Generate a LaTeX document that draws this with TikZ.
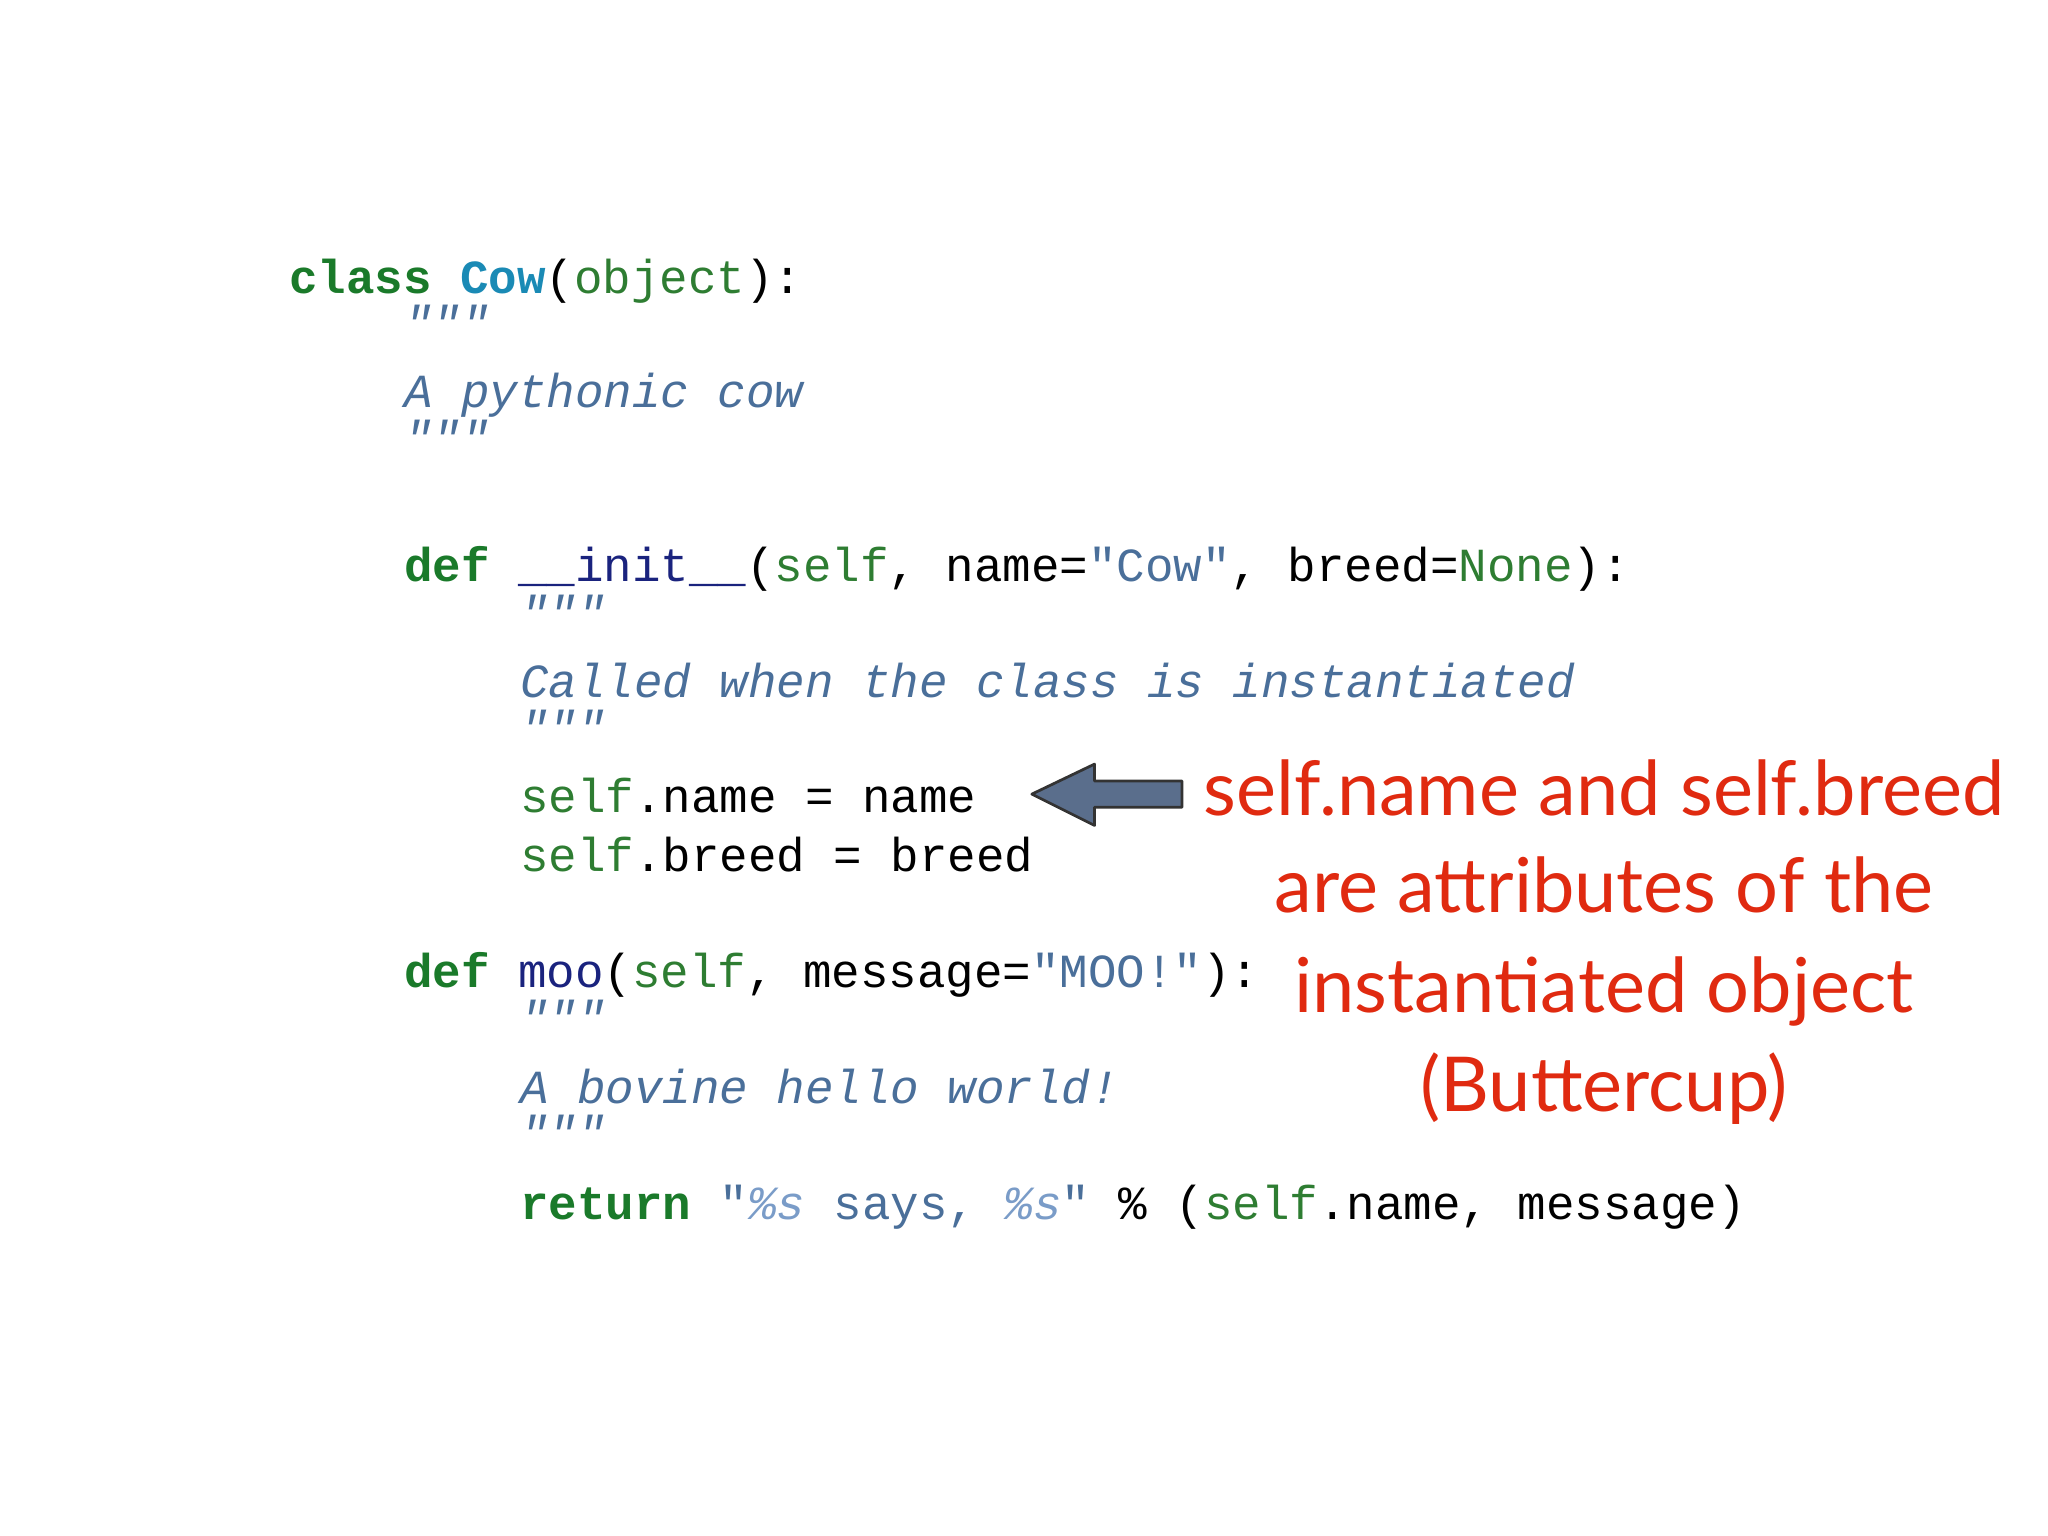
\documentclass[tikz,border=0pt]{standalone}
\usepackage{fontspec}
\setmonofont{Liberation Mono}
\newfontfamily\redfont{Lato}
\definecolor{kw}{HTML}{1A7A2A}
\definecolor{cls}{HTML}{1A8AB5}
\definecolor{gr}{HTML}{2E7D32}
\definecolor{doc}{HTML}{4A6F9A}
\definecolor{fn}{HTML}{1A237E}
\definecolor{fmt}{HTML}{7A9CC8}
\definecolor{redt}{HTML}{E02A10}
\definecolor{arr}{HTML}{5A6E8C}
\tikzset{code/.style={anchor=base west,inner sep=0pt,font=\ttfamily\fontsize{20.7}{24}\selectfont},
 red/.style={anchor=base,inner sep=0pt,text=redt,font=\redfont\fontsize{33}{40}\selectfont}}
\newcommand{\K}[1]{\textbf{\textcolor{kw}{#1}}}
\newcommand{\G}[1]{\textcolor{gr}{#1}}
\newcommand{\D}[1]{\textit{\textcolor{doc}{#1}}}
\begin{document}
\begin{tikzpicture}[x=0.02cm,y=-0.02cm]
\fill[white] (0,0) rectangle (1568,1176);
\node[code] (l1) at (221,225) {\K{class} \textbf{\textcolor{cls}{Cow}}(\G{object}):};
\node[code] (l2) at (309,260) {\D{"""}};
\node[code] (l3) at (309,312) {\D{A pythonic cow}};
\node[code] (l4) at (309,348) {\D{"""}};
\node[code] (l5) at (309,445) {\K{def} \textcolor{fn}{\_\_init\_\_}(\G{self}, name=\textcolor{doc}{"Cow"}, breed=\G{None}):};
\node[code] (l6) at (398,482) {\D{"""}};
\node[code] (l7) at (398,534) {\D{Called when the class is instantiated}};
\node[code] (l8) at (398,570) {\D{"""}};
\node[code] (l9) at (398,622) {\G{self}.name = name};
\node[code] (l10) at (398,667) {\G{self}.breed = breed};
\node[code] (l11) at (309,756) {\K{def} \textcolor{fn}{moo}(\G{self}, message=\textcolor{doc}{"MOO!"}):};
\node[code] (l12) at (398,792) {\D{"""}};
\node[code] (l13) at (398,845) {\D{A bovine hello world!}};
\node[code] (l14) at (398,880) {\D{"""}};
\node[code] (l15) at (398,934) {\K{return} \textcolor{doc}{"\textit{\textcolor{fmt}{\%s}} says, \textit{\textcolor{fmt}{\%s}}"} \% (\G{self}.name, message)};
\node[red] (r1) at (1228,624) {self.name and self.breed};
\node[red] (r2) at (1228,699) {are attributes of the};
\node[red] (r3) at (1228,775) {instantiated object};
\node[red] (r4) at (1228,851) {(Buttercup)};
\coordinate (tip) at (790,608);
\draw[fill=arr,draw=black!80,line width=1.2pt,line join=round]
 (tip) -- (838,585) -- (838,598) -- (905,598) -- (905,618) -- (838,618) -- (838,632) -- cycle;
\end{tikzpicture}
\end{document}
